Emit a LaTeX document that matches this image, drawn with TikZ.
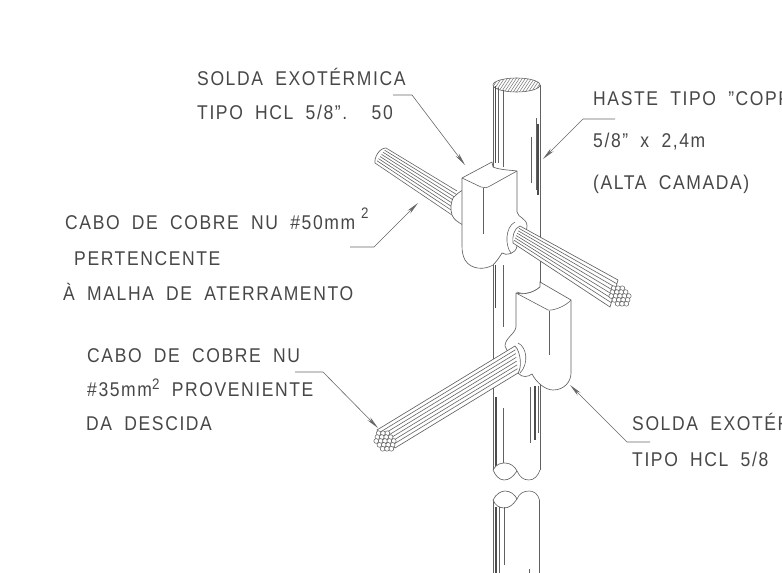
\documentclass[tikz,border=0pt]{standalone}
\usepackage{fontspec}
\setmainfont[FakeStretch=0.88,LetterSpace=8,WordSpace=1.9]{Liberation Sans}
\usepackage{tikz}
\usetikzlibrary{arrows.meta,calc}

\tikzset{
    lbl/.style={anchor=base west,inner sep=0pt,text=black!72,font=\fontsize{17}{20}\selectfont},
    thin line/.style={draw=black!62,line width=0.5pt},
    shade line/.style={draw=black!70,line width=1.3pt},
    leader/.style={draw=black!60,line width=0.5pt,-{Stealth[length=11pt,width=3.5pt]}},
    body/.style={fill=white,draw=black!62,line width=0.55pt},
}

% one strand bundle seen from its cut end
\newcommand{\bundle}[2]{
    \foreach \r/\n in {-2/3,-1/4,0/5,1/4,2/3}
        \foreach \k in {1,...,\n}
            \draw[black!62,line width=0.45pt,fill=white] ({#1+(\k-(\n+1)/2)*4.4+\r*1.0},{#2+\r*3.9}) circle (2.4);
}
% strands between two cross sections of a cable
\newcommand{\strands}[4]{
    \foreach \t in {0.14,0.28,0.42,0.56,0.70,0.84}
        \draw[thin line] ($(#1)!\t!(#2)$) -- ($(#3)!\t!(#4)$);
}

\begin{document}
\begin{tikzpicture}[x=0.03cm,y=-0.03cm]
    \useasboundingbox (0,0) rectangle (782,573);
    \clip (0,0) rectangle (782,573);

    % rod
    \draw[thin line] (493,85) -- (493,470);
    \draw[thin line] (540,85) -- (540,470);
    \draw[thin line,fill=white] (516.5,85) ellipse (23.5 and 7);
    \begin{scope}
        \clip (516.5,85) ellipse (23.5 and 7);
        \foreach \x in {488,491,...,540}
            \draw[black!55,line width=0.4pt] (\x,94) -- (\x+12,76);
    \end{scope}
    \draw[shade line] (495.5,86) -- (495.5,163);
    \draw[thin line] (498,88) -- (498,163);
    \draw[thin line] (503,90) -- (503,167);
    \draw[thin line] (531,137) -- (531,183);
    \draw[shade line] (538,124) -- (538,195);
    \draw[thin line] (536,118) -- (536,190);
    \draw[shade line] (495.5,265) -- (495.5,308);
    \draw[thin line] (503,265) -- (503,327);
    \draw[shade line] (496,397) -- (496,467);
    \draw[thin line] (503,408) -- (503,463);
    \draw[thin line] (530,387) -- (530,443);
    \draw[shade line] (535,386) -- (535,440);
    \draw[thin line] (538,386) -- (538,433);

    % rod break
    \draw[body] (493,470) .. controls (496,464) and (501,463) .. (505,463)
        .. controls (511,463) and (515,467) .. (517,471)
        .. controls (513,477) and (509,480) .. (504,480)
        .. controls (499,480) and (495,475) .. (493,470);
    \draw[thin line] (517,471) .. controls (520,477) and (523,480) .. (529,480)
        .. controls (534,480) and (538,476) .. (540,470);
    \draw[thin line] (493,500) -- (493,573);
    \draw[thin line] (539.5,500) -- (539.5,573);
    \draw[body] (493,500) .. controls (496,494) and (501,491) .. (505,491)
        .. controls (511,491) and (515,495) .. (517,499)
        .. controls (513,505) and (509,508) .. (504,508)
        .. controls (499,508) and (495,505) .. (493,500);
    \draw[thin line] (517,499) .. controls (519,494) and (523,491) .. (529,491)
        .. controls (534,491) and (538,494) .. (539.5,500);
    \draw[shade line] (496,507) -- (496,573);
    \draw[thin line] (499,507) -- (499,573);
    \draw[thin line] (504,507) -- (504,565);
    \draw[thin line] (529,569) -- (529,573);

    % upper cable, behind the weld
    \coordinate (ua) at (386,148);
    \coordinate (ub) at (375,163);
    \coordinate (uc) at (457,191);
    \coordinate (ud) at (452,215);
    \draw[thin line] (ua) -- (uc);
    \draw[thin line] (ub) -- (ud);
    \strands{ua}{ub}{uc}{ud}
    \draw[body] (ub) .. controls (374,158) and (379,148) .. (ua);

    % upper weld
    \draw[body] (453,198) .. controls (457,194) and (459,192) .. (463,190)
        -- (463,225) .. controls (458,222) and (454,220) .. (452,215)
        .. controls (450,208) and (451,203) .. (453,198) -- cycle;
    \draw[body] (462,178) -- (492,162) -- (493,167)
        .. controls (500,170) and (510,170) .. (517,171)
        -- (517,212) .. controls (518,218) and (527,218) .. (527,226)
        .. controls (527,236) and (518,240) .. (517,246)
        .. controls (516,254) and (506,256) .. (502,253)
        .. controls (499,258) and (496,262) .. (493,265)
        .. controls (485,270) and (471,270) .. (465,260)
        .. controls (463,256) and (462,252) .. (462,246) -- cycle;
    \draw[thin line] (462,178) -- (481,187) .. controls (484,188) and (487,188) .. (490,186) -- (517,171);
    \draw[thin line] (483.5,188) -- (483.5,234);
    \draw[thin line] (515,222) .. controls (505,227) and (505,246) .. (511,253);

    % upper cable, in front of the weld
    \coordinate (ue) at (520,226);
    \coordinate (uf) at (513,243);
    \coordinate (ug) at (618,280);
    \coordinate (uh) at (610,307);
    \draw[body] (ue) -- (ug) -- (uh) -- (uf) .. controls (512,237) and (514,228) .. (ue);
    \strands{ue}{uf}{ug}{uh}
    \bundle{620}{296}

    % lower weld
    \draw[thin line] (517,292) .. controls (524,295) and (533,293) .. (540,287);
    \draw[body] (516,293) -- (516,327) .. controls (515,334) and (505,338) .. (505,346)
        -- (518,373) .. controls (522,378) and (528,377) .. (532,374)
        .. controls (536,382) and (545,390) .. (553,390)
        .. controls (564,390) and (571,382) .. (571,373)
        -- (571,300) -- (540,282) -- (540,287)
        .. controls (533,293) and (524,295) .. (516,293);
    \draw[thin line] (516,293) -- (548,310) .. controls (552,311) and (565,307) .. (571,300);
    \draw[thin line] (549.5,311) -- (549.5,355);
    \draw[thin line] (518,343) .. controls (527,347) and (529,364) .. (520,373);

    % lower cable
    \coordinate (la) at (377,430);
    \coordinate (lb) at (395,448);
    \coordinate (lc) at (515,346);
    \coordinate (ld) at (518,373);
    \draw[body] (la) -- (lc) .. controls (521,352) and (522,368) .. (ld) -- (lb) -- cycle;
    \strands{la}{lb}{lc}{ld}
    \bundle{385}{441}

    % texts
    \node[lbl] (sa) at (197,86) {SOLDA EXOTÉRMICA};
    \node[lbl] (sb) at (197,120) {TIPO HCL 5/8”.\ \ 50};
    \node[lbl] (ha) at (593,106) {HASTE TIPO ”COPP};
    \node[lbl] (hb) at (593,148) {5/8”\ x\ 2,4m};
    \node[lbl] (hc) at (593,190) {(ALTA CAMADA)};
    \node[lbl] (ca) at (65,230) {CABO DE COBRE NU \#50mm\raisebox{10pt}{\hspace{5pt}\fontsize{13}{15}\selectfont 2}};
    \node[lbl] (cb) at (74,266) {PERTENCENTE};
    \node[lbl] (cc) at (63,301) {À MALHA DE ATERRAMENTO};
    \node[lbl] (da) at (87,363) {CABO DE COBRE NU};
    \node[lbl] (db) at (87,397) {\#35mm\raisebox{6pt}{\fontsize{13}{15}\selectfont 2} PROVENIENTE};
    \node[lbl] (dc) at (86,431) {DA DESCIDA};
    \node[lbl] (ea) at (632,431) {SOLDA EXOTÉR};
    \node[lbl] (eb) at (632,466) {TIPO HCL 5/8};

    % leaders
    \coordinate (tsa) at (465,165);
    \coordinate (tha) at (543,159);
    \coordinate (tca) at (418,203);
    \coordinate (tda) at (378,428);
    \coordinate (tea) at (570,385);
    \draw[leader] (393,95) -- (412,95) -- (tsa);
    \draw[leader] (615,119) -- (583,119) -- (tha);
    \draw[leader] (350,247) -- (374,247) -- (tca);
    \draw[leader] (295,372) -- (323,372) -- (tda);
    \draw[leader] (650,442) -- (627,442) -- (tea);
\end{tikzpicture}
\end{document}
